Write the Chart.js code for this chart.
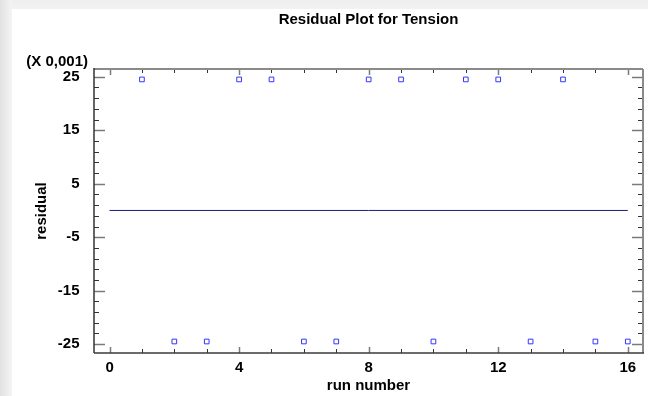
<!DOCTYPE html>
<html>
<head>
<meta charset="utf-8">
<script src="https://cdn.jsdelivr.net/npm/chart.js@4/dist/chart.umd.min.js"></script>
<style>
  html, body { margin: 0; padding: 0; }
  body {
    width: 648px; height: 396px; overflow: hidden;
    background:
      linear-gradient(to right, #e2e2e2 0px, #f4f4f4 12px, rgba(255,255,255,0) 12px),
      linear-gradient(to bottom, #eeeeee 0px, #f2f2f2 9px, #ffffff 9px);
  }
  #wrap { position: absolute; left: 0; top: 0; width: 648px; height: 396px; }
</style>
</head>
<body>
<div id="wrap"><canvas id="c" width="648" height="396"></canvas></div>
<script>
// Residuals (in units of 0.001) by run
const runs = [1, 2, 3, 4, 5, 6, 7, 8, 9, 10, 11, 12, 13, 14, 15, 16];
const residuals = [24.5, -24.5, -24.5, 24.5, 24.5, -24.5, -24.5, 24.5,
                   24.5, -24.5, 24.5, 24.5, -24.5, 24.5, -24.5, -24.5];
// Zero reference line
const zeroLineX = [0, 16];
const zeroLineY = [0, 0];

// Axis ticks
const xTickLabels = [0, 4, 8, 12, 16];
const yTickLabels = [-25, -15, -5, 5, 15, 25];
const xRange = [-0.48, 16.47];
const yRange = [-26.65, 26.45];
const xMinorStep = 1;
const yMinorStep = 2;

const chartTitle = 'Residual Plot for Tension';
const xTitle = 'run number';
const yTitle = 'residual';
const yScaleNote = '(X 0,001)';

const FONT = '"Liberation Sans", Arial, Helvetica, sans-serif';

// Frame with inward tick marks on all four sides
const framePlugin = {
  id: 'frame',
  afterDraw(chart) {
    const { ctx, chartArea: a, scales: { x, y } } = chart;
    ctx.save();
    const line = (x1, y1, x2, y2, color, w) => {
      ctx.beginPath();
      ctx.strokeStyle = color;
      ctx.lineWidth = w;
      ctx.moveTo(x1, y1);
      ctx.lineTo(x2, y2);
      ctx.stroke();
    };
    // minor + major x ticks
    for (let v = xTickLabels[0]; v <= xTickLabels[xTickLabels.length - 1] + 1e-9; v += xMinorStep) {
      const px = Math.round(x.getPixelForValue(v)) + 0.5;
      const major = xTickLabels.includes(v);
      const len = major ? 6 : 4;
      const col = major ? '#7a7a7a' : '#333333';
      line(px, a.bottom, px, a.bottom - len, col, major ? 1.5 : 1);
      line(px, a.top, px, a.top + len, col, major ? 1.5 : 1);
    }
    // minor + major y ticks
    for (let v = yTickLabels[0]; v <= yTickLabels[yTickLabels.length - 1] + 1e-9; v += yMinorStep) {
      const py = Math.round(y.getPixelForValue(v)) + 0.5;
      const major = yTickLabels.includes(v);
      const len = major ? 11 : 5;
      const col = major ? '#7a7a7a' : '#333333';
      line(a.left, py, a.left + len, py, col, major ? 1.5 : 1);
      line(a.right, py, a.right - len, py, col, major ? 1.5 : 1);
    }
    // box
    line(a.left, a.top, a.right, a.top, '#8a8a8a', 2);
    line(a.right, a.top, a.right, a.bottom, '#8a8a8a', 2);
    line(a.left, a.top - 1, a.left, a.bottom, '#333333', 1.5);
    line(a.left, a.bottom, a.right + 1, a.bottom, '#3a3a3a', 1.5);

    // scale multiplier note
    ctx.fillStyle = '#000';
    ctx.font = 'bold 15px ' + FONT;
    ctx.textAlign = 'right';
    ctx.textBaseline = 'middle';
    ctx.fillText(yScaleNote, 88, 62);
    ctx.restore();
  }
};

new Chart(document.getElementById('c'), {
  type: 'scatter',
  data: {
    datasets: [
      {
        label: 'residual',
        data: runs.map((r, i) => ({ x: r, y: residuals[i] })),
        pointStyle: 'rect',
        pointRadius: 3.3,
        pointBorderWidth: 1,
        pointBorderColor: '#3434ff',
        pointBackgroundColor: 'rgba(255,255,255,0)',
        showLine: false
      },
      {
        label: 'zero',
        data: zeroLineX.map((v, i) => ({ x: v, y: zeroLineY[i] })),
        showLine: true,
        borderColor: '#1c1c78',
        borderWidth: 1,
        pointRadius: 0,
        fill: false
      }
    ]
  },
  options: {
    responsive: false,
    animation: false,
    devicePixelRatio: 1,
    layout: { padding: { left: 0, right: 5, top: 0, bottom: 0 } },
    plugins: {
      legend: { display: false },
      tooltip: { enabled: false },
      title: {
        display: true,
        text: chartTitle,
        fullSize: false,
        color: '#000',
        font: { family: FONT, size: 15, weight: 'bold' },
        padding: { top: 11, bottom: 40 }
      }
    },
    scales: {
      x: {
        type: 'linear',
        min: xRange[0],
        max: xRange[1],
        afterBuildTicks: s => { s.ticks = xTickLabels.map(v => ({ value: v })); },
        afterFit: s => { s.height = 43; },
        grid: { display: false },
        border: { display: false },
        ticks: {
          autoSkip: false,
          maxRotation: 0,
          padding: -2,
          color: '#000',
          font: { family: FONT, size: 15, weight: 'bold' }
        },
        title: {
          display: true,
          text: xTitle,
          color: '#000',
          font: { family: FONT, size: 15, weight: 'bold' },
          padding: { top: 0, bottom: 1 }
        }
      },
      y: {
        type: 'linear',
        min: yRange[0],
        max: yRange[1],
        afterBuildTicks: s => { s.ticks = yTickLabels.map(v => ({ value: v })); },
        afterFit: s => { s.width = 94; },
        grid: { display: false },
        border: { display: false },
        ticks: {
          autoSkip: false,
          padding: 6.5,
          color: '#000',
          font: { family: FONT, size: 15, weight: 'bold' }
        },
        title: {
          display: true,
          text: yTitle,
          color: '#000',
          font: { family: FONT, size: 15, weight: 'bold' },
          padding: { top: 33, bottom: 0 }
        }
      }
    }
  },
  plugins: [framePlugin]
});
</script>
</body>
</html>
